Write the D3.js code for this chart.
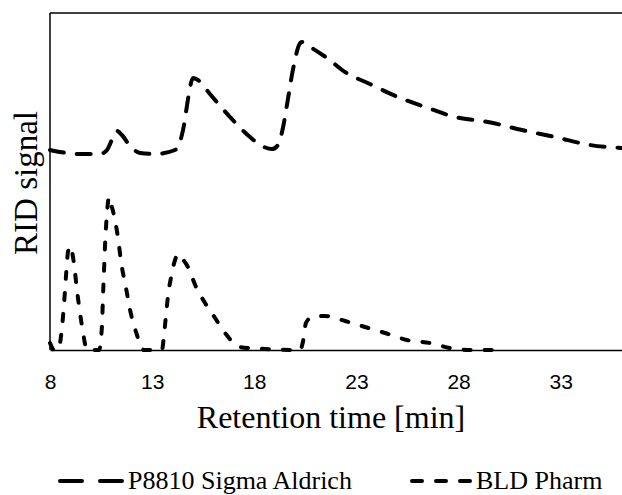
<!DOCTYPE html>
<html>
<head>
<meta charset="utf-8">
<script src="https://cdn.jsdelivr.net/npm/d3@7"></script>
<style>
html,body{margin:0;padding:0;background:#fff;}
svg{display:block;}
</style>
</head>
<body>
<svg id="chart" width="622" height="495"></svg>
<script>
// ---- data (signal in arbitrary units) ----
const seriesNames = ["P8810 Sigma Aldrich", "BLD Pharm"];
const xTickValues = [8, 13, 18, 23, 28, 33];

const timeP8810 = [8.0, 8.49, 9.47, 10.45, 10.79, 11.03, 11.28, 11.52, 11.92, 12.41, 13.14, 14.12, 14.36, 14.56, 14.71, 14.85, 15.0, 15.24, 15.83, 16.81, 17.79, 18.38, 18.87, 19.16, 19.4, 19.6, 19.8, 19.99, 20.19, 20.33, 20.82, 21.56, 22.44, 23.66, 25.03, 26.5, 27.82, 29.44, 31.1, 32.72, 34.43, 36.0];
const signalP8810 = [200, 198, 196, 196, 200, 210, 219, 215, 204, 197, 196, 200, 208, 225, 245, 262, 272, 270, 256, 233, 213, 204, 201, 205, 222, 245, 270, 290, 305, 308, 302, 292, 278, 266, 253, 242, 233, 228, 220, 213, 205, 202];

const timeBLD = [8.0, 8.2, 8.39, 8.59, 8.69, 8.78, 8.88, 8.98, 9.17, 9.32, 9.47, 9.62, 9.81, 10.4, 10.5, 10.55, 10.6, 10.64, 10.69, 10.79, 10.89, 10.99, 11.13, 11.33, 11.48, 11.72, 11.92, 12.21, 12.6, 13.48, 13.58, 13.68, 13.78, 13.92, 14.12, 14.27, 14.41, 14.75, 15.15, 15.59, 16.08, 16.57, 17.3, 18.52, 20.24, 20.38, 20.53, 20.82, 21.46, 22.44, 23.42, 24.4, 25.47, 26.6, 27.58, 28.66, 29.88];
const signalBLD = [7, 0, 0, 23, 47, 73, 98, 104, 87, 60, 37, 17, 0, 0, 12, 27, 57, 77, 103, 137, 153, 146, 135, 112, 88, 62, 40, 18, 0, 0, 15, 35, 55, 72, 90, 96, 93, 83, 63, 47, 32, 17, 3, 1, 0, 8, 27, 33, 34, 29, 23, 17, 10, 7, 2, 0, 0];

// ---- layout ----
const svg = d3.select("#chart");
const mLeft = 50, mRight = 622, mTop = 13, mBottom = 350;

const x = d3.scaleLinear().domain([8, 36]).range([mLeft, mRight]);
const y = d3.scaleLinear().domain([0, 337]).range([mBottom, mTop]);

const line = d3.line()
  .x(d => x(d[0]))
  .y(d => y(d[1]))
  .curve(d3.curveMonotoneX);

const dataP = timeP8810.map((t, i) => [t, signalP8810[i]]);
const dataB = timeBLD.map((t, i) => [t, signalBLD[i]]);

svg.append("path")
  .attr("d", line(dataP))
  .attr("fill", "none")
  .attr("stroke", "#000")
  .attr("stroke-width", 4)
  .attr("stroke-linecap", "round")
  .attr("stroke-dasharray", "14,13");

svg.append("path")
  .attr("d", line(dataB))
  .attr("fill", "none")
  .attr("stroke", "#000")
  .attr("stroke-width", 4)
  .attr("stroke-linecap", "round")
  .attr("stroke-dasharray", "7,14");

// frame
svg.append("line").attr("x1", mLeft).attr("x2", mLeft).attr("y1", mTop).attr("y2", mBottom)
  .attr("stroke", "#000").attr("stroke-width", 1.5);
svg.append("line").attr("x1", mLeft).attr("x2", mRight).attr("y1", mTop).attr("y2", mTop)
  .attr("stroke", "#000").attr("stroke-width", 1.5);

// x axis
const xAxis = d3.axisBottom(x).tickValues(xTickValues).tickSize(0).tickSizeOuter(0).tickPadding(24)
  .tickFormat(d3.format("d"));
const gx = svg.append("g").attr("transform", `translate(0,${mBottom})`).call(xAxis);
gx.select(".domain").attr("stroke", "#000").attr("stroke-width", 1.5);
gx.selectAll("text")
  .attr("font-family", "'Liberation Sans', Arial, sans-serif")
  .attr("font-size", 21)
  .attr("fill", "#000");

// axis titles
svg.append("text")
  .attr("x", 331).attr("y", 428)
  .attr("text-anchor", "middle")
  .attr("font-family", "'Liberation Serif', 'Times New Roman', serif")
  .attr("font-size", 32)
  .text("Retention time [min]");

svg.append("text")
  .attr("transform", "translate(37,183) rotate(-90)")
  .attr("text-anchor", "middle")
  .attr("font-family", "'Liberation Serif', 'Times New Roman', serif")
  .attr("font-size", 33)
  .text("RID signal");

// legend
const legY = 481;
svg.append("line").attr("x1", 60).attr("x2", 122).attr("y1", legY).attr("y2", legY)
  .attr("stroke", "#000").attr("stroke-width", 4).attr("stroke-linecap", "round")
  .attr("stroke-dasharray", "22,18");
svg.append("text").attr("x", 128).attr("y", 489)
  .attr("font-family", "'Liberation Serif', 'Times New Roman', serif")
  .attr("font-size", 26)
  .text(seriesNames[0]);

svg.append("line").attr("x1", 412).attr("x2", 471).attr("y1", legY).attr("y2", legY)
  .attr("stroke", "#000").attr("stroke-width", 4).attr("stroke-linecap", "round")
  .attr("stroke-dasharray", "10,14");
svg.append("text").attr("x", 476).attr("y", 489)
  .attr("font-family", "'Liberation Serif', 'Times New Roman', serif")
  .attr("font-size", 26)
  .text(seriesNames[1]);
</script>
</body>
</html>
